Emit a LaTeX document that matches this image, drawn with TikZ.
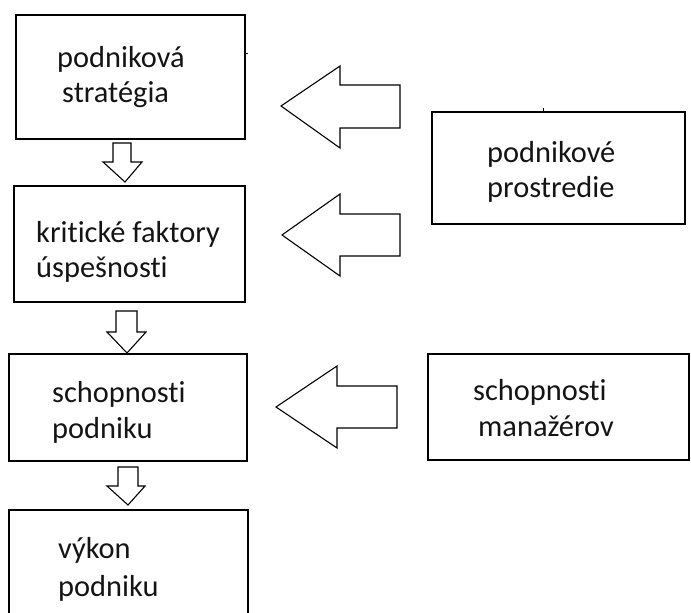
\documentclass[tikz,border=0pt]{standalone}
\usepackage{fontspec}
\setmainfont{Carlito}[Ligatures={NoCommon,NoRare,NoContextual}]
\begin{document}
\begin{tikzpicture}[x=1pt,y=-1pt,
  box/.style={draw=black,line width=1.6pt},
  blockarrow/.style={draw=black,line width=1.1pt,fill=white,line join=miter},
  lbl/.style={anchor=base west,inner sep=0pt,font=\fontsize{30.4}{36}\selectfont,text=black!92}]
\useasboundingbox (0,0) rectangle (691,613);
\clip (0,0) rectangle (691,613);
% boxes
\draw[box] (16,15) rectangle (245,139);
\draw[box] (14,186) rectangle (245,302);
\draw[box] (9,354) rectangle (247,461);
\draw[box] (9,510) rectangle (248,640);
\draw[box] (432,112) rectangle (685,224);
\draw[box] (428,354) rectangle (689,460);
% small ticks
\draw[line width=1pt] (245,53) -- (248,53);
\draw[line width=1pt] (543,112) -- (543,108);
% texts
\node[lbl] (t1a) at (57,67) {podniková};
\node[lbl] (t1b) at (62,102) {stratégia};
\node[lbl] (t2a) at (36,242) {kritické faktory};
\node[lbl] (t2b) at (36,277) {úspešnosti};
\node[lbl] (t3a) at (52,402) {schopnosti};
\node[lbl] (t3b) at (52,438) {podniku};
\node[lbl] (t4a) at (58,558) {výkon};
\node[lbl] (t4b) at (58,596) {podniku};
\node[lbl] (r1a) at (487,162) {podnikové};
\node[lbl] (r1b) at (487,197) {prostredie};
\node[lbl] (r3a) at (473,400) {schopnosti};
\node[lbl] (r3b) at (478,436) {manažérov};
% down block arrows
\draw[blockarrow] (113,143) -- (131,143) -- (131,162) -- (142,162) -- (125,182) -- (103,162) -- (113,162) -- cycle;
\draw[blockarrow] (116,311) -- (137,311) -- (137,332) -- (146,332) -- (127,353) -- (107,332) -- (116,332) -- cycle;
\draw[blockarrow] (118,467) -- (138,467) -- (138,486) -- (145,486) -- (128,505) -- (107,486) -- (118,486) -- cycle;
% left block arrows
\draw[blockarrow] (400,85) -- (340,85) -- (340,66) -- (281,106) -- (340,148) -- (340,128) -- (400,128) -- cycle;
\draw[blockarrow] (400,214) -- (340,214) -- (340,194) -- (282,235) -- (340,276) -- (340,256) -- (400,256) -- cycle;
\draw[blockarrow] (397,386) -- (337,386) -- (337,366) -- (276,407) -- (337,448) -- (337,428) -- (397,428) -- cycle;
\end{tikzpicture}
\end{document}
